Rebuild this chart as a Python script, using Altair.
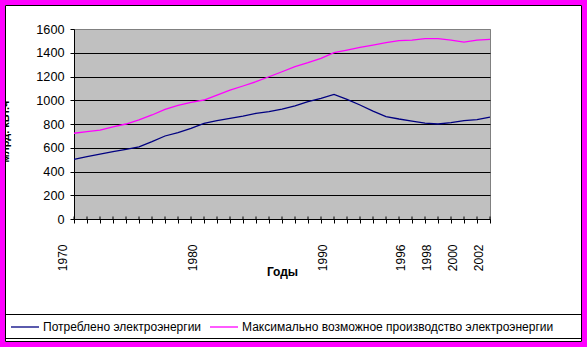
import altair as alt
import pandas as pd

years = list(range(1970, 2003))
consumed = [503, 525, 547, 567, 587, 607, 651, 699, 727, 763,
            806, 828, 848, 867, 890, 904, 926, 952, 988, 1016,
            1050, 1008, 960, 909, 862, 842, 825, 808, 800, 812,
            829, 837, 857]
max_possible = [722, 735, 749, 775, 800, 834, 876, 923, 957, 982,
                1002, 1044, 1086, 1120, 1156, 1198, 1240, 1283, 1316, 1353,
                1401, 1423, 1446, 1465, 1485, 1502, 1507, 1519, 1519, 1507,
                1490, 1507, 1513]
series_names = ["Потреблено электроэнергии",
                "Максимально возможное производство электроэнергии"]
series_colors = ["#000080", "#FF00FF"]
label_years = [1970, 1980, 1990, 1996, 1998, 2000, 2002]
y_ticks = [0, 200, 400, 600, 800, 1000, 1200, 1400, 1600]

rows = []
for name, vals in zip(series_names, [consumed, max_possible]):
    for yr, v in zip(years, vals):
        rows.append({"year": yr, "value": v, "series": name})
df = pd.DataFrame(rows)
tick_df = pd.DataFrame({"year": years})
one = pd.DataFrame({"k": [0]})

OX, OY = 74, 29
W, H = 416, 190
FONT = "Liberation Sans"

label_list = "[" + ",".join(str(y) for y in label_years) + "]"
x_scale = alt.Scale(domain=[1970, 2002], nice=False, zero=False)
x_axis = alt.Axis(values=years, format="d",
                  labelExpr=f"indexof({label_list}, datum.value) >= 0 ? datum.label : ''",
                  labelAngle=270, labelAlign="right", labelBaseline="middle",
                  labelOffset=-12, labelPadding=21, labelOverlap=False,
                  labelFontSize=12, tickSize=4, grid=False,
                  title="Годы", titleFontWeight="bold", titleFontSize=12,
                  titleY=52, titleBaseline="middle", zindex=0)

lines = alt.Chart(df).mark_line(strokeWidth=1.3).encode(
    x=alt.X("year:Q", scale=x_scale, axis=x_axis),
    y=alt.Y("value:Q",
            scale=alt.Scale(domain=[0, 1600], nice=False),
            axis=alt.Axis(values=y_ticks, format="d", labelFontSize=12.7, labelPadding=6,
                          tickSize=4, grid=True,
                          gridColor={"condition": {"test": "datum.value >= 1600", "value": "#808080"},
                                     "value": "#000000"},
                          title="млрд. кВт.ч", titleFontWeight="bold", titleFontSize=11,
                          titleAngle=270, titleBaseline="alphabetic", titleAlign="center",
                          titleX=8.5 - OX, titleY=131 - OY, zindex=0)),
    color=alt.Color("series:N",
                    scale=alt.Scale(domain=series_names, range=series_colors),
                    legend=alt.Legend(orient="none", legendX=10 - OX, legendY=283,
                                      direction="horizontal", columns=2, title=None,
                                      symbolType="stroke", symbolSize=784,
                                      symbolStrokeWidth=1.3, labelFontSize=12,
                                      labelColor="#000000", labelFont=FONT,
                                      labelOffset=3, columnPadding=5, padding=0,
                                      labelLimit=500)),
)

inner_ticks = alt.Chart(tick_df).mark_rule(color="#000000", strokeWidth=1).encode(
    x=alt.X("year:Q", scale=x_scale, axis=x_axis),
    y=alt.value(H - 2.5), y2=alt.value(H))

frame_magenta = alt.Chart(one).mark_rect(filled=False, stroke="#FF00FF", strokeWidth=5, clip=False).encode(
    x=alt.value(2.5 - OX), x2=alt.value(584.5 - OX),
    y=alt.value(2.5 - OY), y2=alt.value(344.5 - OY))
frame_black = alt.Chart(one).mark_rect(filled=False, stroke="#000000", strokeWidth=1, clip=False).encode(
    x=alt.value(5.5 - OX), x2=alt.value(581.5 - OX),
    y=alt.value(5.5 - OY), y2=alt.value(341.5 - OY))
legend_top = alt.Chart(one).mark_rule(color="#000000", strokeWidth=1, clip=False).encode(
    x=alt.value(5 - OX), x2=alt.value(582 - OX), y=alt.value(314.5 - OY))
legend_bottom = alt.Chart(one).mark_rule(color="#000000", strokeWidth=1, clip=False).encode(
    x=alt.value(5 - OX), x2=alt.value(582 - OX), y=alt.value(338.5 - OY))

chart = alt.layer(lines, inner_ticks, frame_magenta, frame_black, legend_top, legend_bottom).properties(
    width=W, height=H,
    autosize=alt.AutoSizeParams(type="none"),
    padding={"left": OX, "top": OY, "right": 587 - OX - W, "bottom": 347 - OY - H},
    background="#FFFFFF",
).configure(font=FONT).configure_view(
    fill="#C0C0C0", stroke="#808080", strokeWidth=1
).configure_axis(
    labelFont=FONT, titleFont=FONT, labelColor="#000000", titleColor="#000000",
    domainColor="#000000", tickColor="#000000", domainWidth=1, tickWidth=1, gridWidth=1
)

chart.save("out.html", embed_options={"renderer": "svg", "actions": False})
